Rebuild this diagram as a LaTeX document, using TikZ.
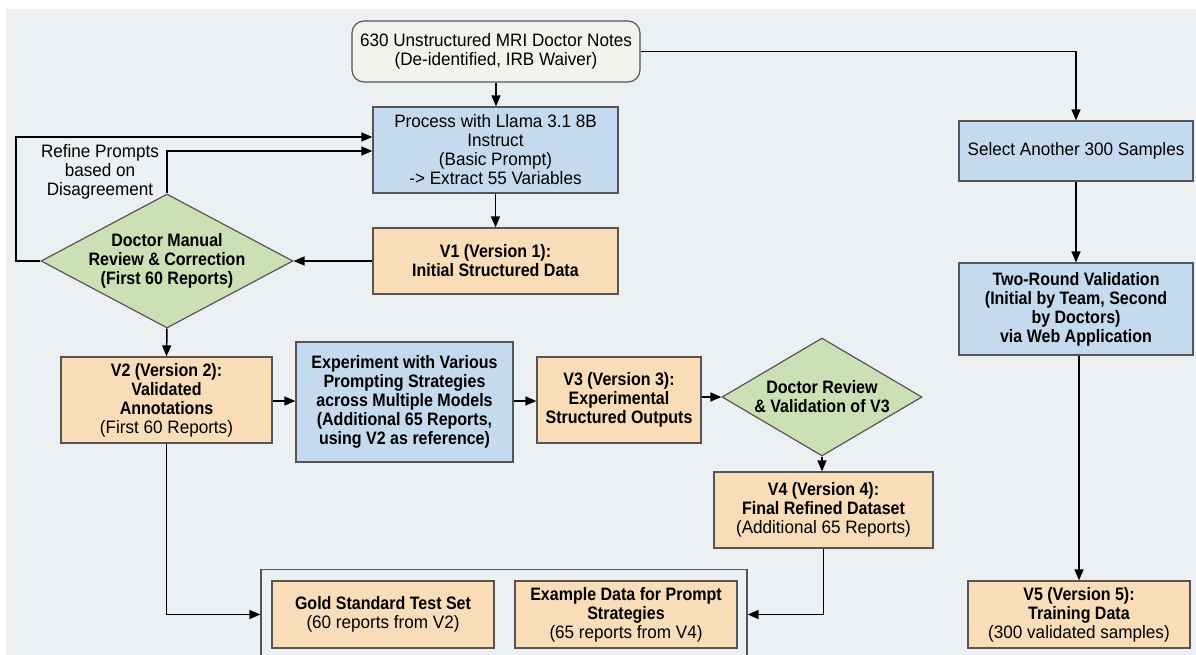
\documentclass[tikz,border=0pt]{standalone}
\usepackage{fontspec}
\setmainfont{Liberation Sans}[FakeStretch=0.95, BoldFeatures={FakeStretch=0.89}]
\usetikzlibrary{arrows.meta,shapes.geometric}
\definecolor{bgc}{HTML}{EDF0F2}
\definecolor{bluefill}{HTML}{C6DAEF}
\definecolor{orangefill}{HTML}{F8DDB8}
\definecolor{greenfill}{HTML}{CBE0B4}
\definecolor{startfill}{HTML}{F2F2EE}
\definecolor{boxline}{HTML}{555555}
\begin{document}
\begin{tikzpicture}[x=1pt,y=-1pt,
  txt/.style={font=\fontsize{18}{19}\selectfont, align=center},
  box/.style={txt, draw=boxline, line width=1.2pt, inner sep=2pt},
  startbox/.style={box, fill=startfill, rounded corners=12pt},
  bluebox/.style={box, fill=bluefill},
  orangebox/.style={box, fill=orangefill},
  greendia/.style={shape=diamond, draw=boxline, line width=1.2pt, fill=greenfill, inner sep=0pt},
  groupbox/.style={draw=boxline, line width=1.2pt, inner sep=0pt},
  arr/.style={draw=black, line width=1.5pt, -{Triangle[length=11pt,width=9pt]}},
  ln/.style={draw=black, line width=1.5pt}
]
\useasboundingbox (0,0) rectangle (1196,655);
\fill[bgc] (6,9) rectangle (1196,655);

% nodes
\node[startbox, minimum width=288pt, minimum height=61pt] (top) at (496,51.5)
  {630 Unstructured MRI Doctor Notes\\(De-identified, IRB Waiver)};
\node[bluebox, minimum width=245pt, minimum height=86pt] (proc) at (495.5,150)
  {Process with Llama 3.1 8B\\Instruct\\(Basic Prompt)\\-> Extract 55 Variables};
\node[orangebox, minimum width=245pt, minimum height=66pt] (v1) at (495.5,261)
  {\textbf{V1 (Version 1):}\\\textbf{Initial Structured Data}};
\node[greendia, minimum width=252pt, minimum height=134pt] (d1) at (167,261) {};
\node[txt] (d1t) at (d1.center) {\textbf{Doctor Manual}\\\textbf{Review \& Correction}\\\textbf{(First 60 Reports)}};
\node[txt] (refine) at (100,172) {Refine Prompts\\based on\\Disagreement};

\node[orangebox, minimum width=211pt, minimum height=86pt] (v2) at (166.5,400)
  {\textbf{V2 (Version 2):}\\\textbf{Validated}\\\textbf{Annotations}\\(First 60 Reports)};
\node[bluebox, minimum width=217pt, minimum height=120pt] (exp) at (404.5,402)
  {\textbf{Experiment with Various}\\\textbf{Prompting Strategies}\\\textbf{across Multiple Models}\\\textbf{(Additional 65 Reports,}\\\textbf{using V2 as reference)}};
\node[orangebox, minimum width=164pt, minimum height=86pt] (v3) at (619,400)
  {\textbf{V3 (Version 3):}\\\textbf{Experimental}\\\textbf{Structured Outputs}};
\node[greendia, minimum width=200pt, minimum height=118pt] (d2) at (822,397) {};
\node[txt] (d2t) at (d2.center) {\textbf{Doctor Review}\\\textbf{\& Validation of V3}};
\node[orangebox, minimum width=219pt, minimum height=76pt] (v4) at (823.5,510)
  {\textbf{V4 (Version 4):}\\\textbf{Final Refined Dataset}\\(Additional 65 Reports)};

\node[groupbox, minimum width=486pt, minimum height=90pt] (grp) at (504,614.5) {};
\node[orangebox, minimum width=222pt, minimum height=67pt] (gold) at (383,614.5)
  {\textbf{Gold Standard Test Set}\\(60 reports from V2)};
\node[orangebox, minimum width=222pt, minimum height=67pt] (ex) at (626,614.5)
  {\textbf{Example Data for Prompt}\\\textbf{Strategies}\\(65 reports from V4)};

\node[bluebox, minimum width=234pt, minimum height=60pt] (sel) at (1076,151)
  {Select Another 300 Samples};
\node[bluebox, minimum width=234pt, minimum height=92pt] (two) at (1076,309)
  {\textbf{Two-Round Validation}\\\textbf{(Initial by Team, Second}\\\textbf{by Doctors)}\\\textbf{via Web Application}};
\node[orangebox, minimum width=222pt, minimum height=67pt] (v5) at (1079,614.5)
  {\textbf{V5 (Version 5):}\\\textbf{Training Data}\\(300 validated samples)};

% connectors
\draw[arr] (top.south) -- (top.south |- proc.north);
\draw[arr] (top.east) -| (sel.north);
\draw[arr] (proc.south) -- (v1.north);
\draw[arr] (v1.west) -- (d1.east);
\draw[arr] (d1.west) -- (16,261) -- (16,137) -- (proc.west |- 0,137);
\draw[arr] (d1.north) -- (167,151) -- (proc.west |- 0,151);
\draw[arr] (d1.south) -- (v2.north);
\draw[arr] (v2.east |- 0,401) -- (exp.west |- 0,401);
\draw[arr] (exp.east |- 0,401) -- (v3.west |- 0,401);
\draw[arr] (v3.east |- d2.west) -- (d2.west);
\draw[arr] (d2.south) -- (d2.south |- v4.north);
\draw[arr] (v4.south) |- (grp.east);
\draw[arr] (v2.south) |- (grp.west);
\draw[arr] (sel.south) -- (two.north);
\draw[arr] (two.south -| v5.north) -- (v5.north);
\end{tikzpicture}
\end{document}
